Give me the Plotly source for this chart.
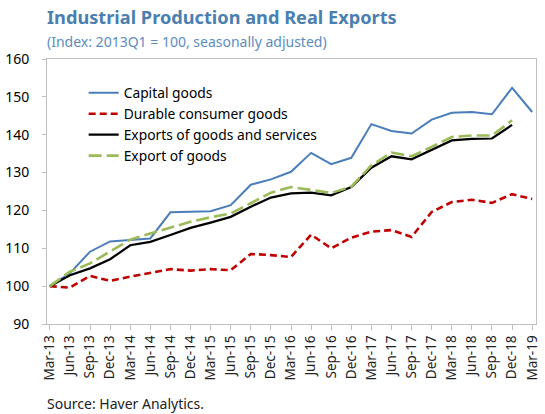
import plotly.graph_objects as go

quarters = [
    "Mar-13", "Jun-13", "Sep-13", "Dec-13", "Mar-14", "Jun-14", "Sep-14", "Dec-14",
    "Mar-15", "Jun-15", "Sep-15", "Dec-15", "Mar-16", "Jun-16", "Sep-16", "Dec-16",
    "Mar-17", "Jun-17", "Sep-17", "Dec-17", "Mar-18", "Jun-18", "Sep-18", "Dec-18",
    "Mar-19",
]

capital_goods = [100, 103.4, 109.1, 111.8, 112.2, 112.6, 119.5, 119.6, 119.8, 121.4,
                 126.8, 128.2, 130.2, 135.2, 132.2, 133.9, 142.8, 141.0, 140.3, 144.0,
                 145.8, 146.0, 145.4, 152.4, 146.0]
durable_goods = [100, 99.6, 102.7, 101.4, 102.5, 103.5, 104.5, 104.1, 104.5, 104.2,
                 108.5, 108.2, 107.7, 113.6, 110.0, 112.8, 114.4, 114.8, 113.0, 119.6,
                 122.2, 122.8, 122.0, 124.3, 123.0]
exports_gs = [100, 102.9, 104.7, 107.1, 110.8, 111.7, 113.5, 115.4, 116.8, 118.3,
              121.0, 123.4, 124.5, 124.7, 124.0, 126.2, 131.3, 134.3, 133.5, 136.0,
              138.5, 138.9, 139.0, 142.6]
exports_goods = [100, 103.8, 106.0, 109.1, 112.3, 113.9, 115.4, 117.0, 118.2, 119.2,
                 121.9, 124.7, 126.2, 125.5, 124.6, 126.3, 131.9, 135.3, 134.3, 136.8,
                 139.4, 139.8, 139.8, 143.8]

font = "Noto Sans"

fig = go.Figure()
fig.add_trace(go.Scatter(x=quarters, y=capital_goods, mode="lines", name="Capital goods",
                         line=dict(color="#4a7ebb", width=2)))
fig.add_trace(go.Scatter(x=quarters, y=durable_goods, mode="lines", name="Durable consumer goods",
                         line=dict(color="#c00000", width=2.6, dash="7px,4px")))
fig.add_trace(go.Scatter(x=quarters[:len(exports_gs)], y=exports_gs, mode="lines",
                         name="Exports of goods and services",
                         line=dict(color="black", width=2.25)))
fig.add_trace(go.Scatter(x=quarters[:len(exports_goods)], y=exports_goods, mode="lines",
                         name="Export of goods",
                         line=dict(color="#9bbb59", width=2.6, dash="13px,5px")))

fig.update_layout(
    width=545, height=414,
    margin=dict(l=47, r=4, t=59, b=90),
    paper_bgcolor="white", plot_bgcolor="white",
    font=dict(family=font, color="black"),
    showlegend=True,
    legend=dict(x=0.075, y=0.931, xanchor="left", yanchor="top", bgcolor="rgba(0,0,0,0)",
                font=dict(size=13.8), tracegroupgap=0, itemwidth=30),
    xaxis=dict(
        type="category", range=[-0.14, 24.19],
        tickangle=-90, tickfont=dict(size=13.5, color="#222"),
        ticks="outside", ticklen=5, tickcolor="#bfbfbf",
        showline=True, linecolor="#bfbfbf", linewidth=1, mirror=True,
        showgrid=False, zeroline=False,
    ),
    yaxis=dict(
        range=[90, 160], dtick=10,
        tickfont=dict(size=14), ticklabelstandoff=10,
        ticks="outside", ticklen=4, tickcolor="#bfbfbf",
        showline=True, linecolor="#bfbfbf", linewidth=1, mirror=True,
        showgrid=False, zeroline=False,
    ),
    annotations=[
        dict(text="<b>Industrial Production and Real Exports</b>", xref="paper", yref="paper",
             x=-0.005, y=1.0, yshift=42, xanchor="left", yanchor="middle", showarrow=False,
             font=dict(size=18.2, color="#4a7fb0")),
        dict(text="(Index: 2013Q1 = 100, seasonally adjusted)", xref="paper", yref="paper",
             x=-0.005, y=1.0, yshift=18, xanchor="left", yanchor="middle", showarrow=False,
             font=dict(size=14, color="#5b8cc0")),
        dict(text="Source: Haver Analytics.", xref="paper", yref="paper",
             x=-0.005, y=0, yshift=-79, xanchor="left", yanchor="middle", showarrow=False,
             font=dict(size=14, color="#222")),
    ],
)

# page body has a default 8px margin; drop it so the figure sits at 0,0
fig.write_html("out.html", config={"displayModeBar": False},
               post_script="document.body.style.margin='0px';")
